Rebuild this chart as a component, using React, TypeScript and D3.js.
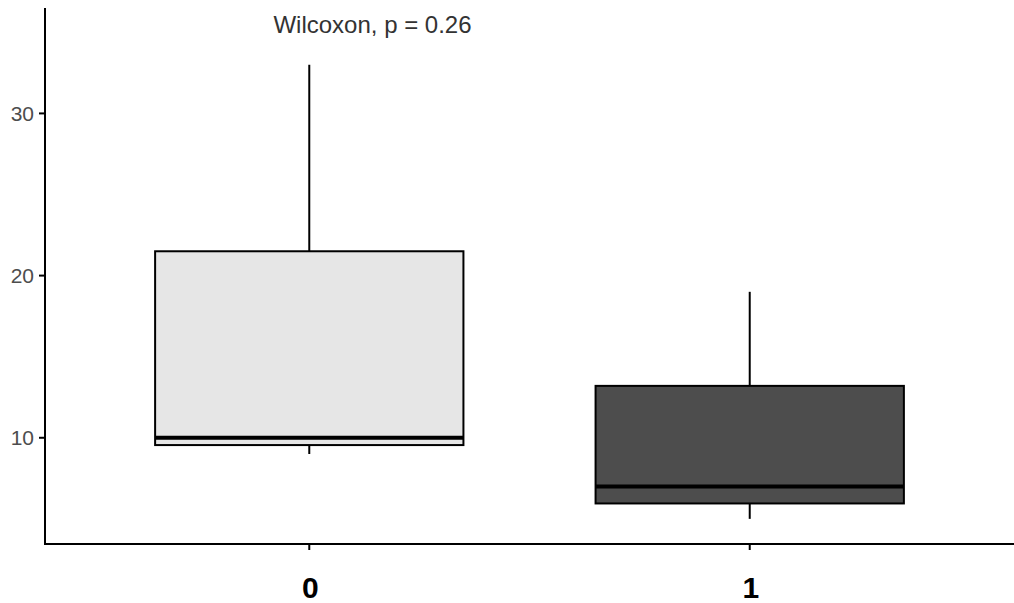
import * as d3 from "d3";

// box stats per group
const groups = ["0", "1"];
const lowerWhisker = [9, 5];
const q1 = [9.55, 5.95];
const medians = [10, 7];
const q3 = [21.5, 13.2];
const upperWhisker = [33, 19];
const fills = ["#e6e6e6", "#4d4d4d"];
const yTicks = [10, 20, 30];
const testLabel = "Wilcoxon, p = 0.26";

const width = 1014;
const height = 603;
const margin = { top: 8, right: 0, bottom: 59, left: 45 };

export default function App() {
  const x = d3
    .scalePoint()
    .domain(groups)
    .range([margin.left, width - margin.right])
    .padding(0.6);
  const step = x.step();
  const boxWidth = step * 0.7;

  const y = d3
    .scaleLinear()
    .domain([3.45, 36.5])
    .range([height - margin.bottom, margin.top]);

  const font = "'Liberation Sans', Arial, sans-serif";

  return (
    <svg
      width={width}
      height={height}
      style={{ position: "absolute", left: 0, top: 0, background: "white" }}
    >
      {/* y axis */}
      <line
        x1={margin.left}
        x2={margin.left}
        y1={margin.top}
        y2={height - margin.bottom}
        stroke="black"
        strokeWidth={2}
      />
      {yTicks.map((t) => (
        <g key={t}>
          <line
            x1={margin.left - 6}
            x2={margin.left}
            y1={y(t)}
            y2={y(t)}
            stroke="black"
            strokeWidth={2}
          />
          <text
            x={margin.left - 11}
            y={y(t)}
            dy="0.36em"
            textAnchor="end"
            fontFamily={font}
            fontSize={21}
            fill="#4d4d4d"
          >
            {t}
          </text>
        </g>
      ))}

      {/* x axis */}
      <line
        x1={margin.left - 1}
        x2={width}
        y1={height - margin.bottom}
        y2={height - margin.bottom}
        stroke="black"
        strokeWidth={2}
      />
      {groups.map((g) => (
        <g key={g}>
          <line
            x1={x(g)}
            x2={x(g)}
            y1={height - margin.bottom}
            y2={height - margin.bottom + 6}
            stroke="black"
            strokeWidth={2}
          />
          <text
            x={(x(g) as number) + 1}
            y={598}
            textAnchor="middle"
            fontFamily={font}
            fontSize={30}
            fontWeight="bold"
            fill="black"
          >
            {g}
          </text>
        </g>
      ))}

      {/* boxes */}
      {groups.map((g, i) => {
        const cx = x(g) as number;
        return (
          <g key={"box" + g}>
            <line
              x1={cx}
              x2={cx}
              y1={y(upperWhisker[i])}
              y2={y(q3[i])}
              stroke="black"
              strokeWidth={2}
            />
            <line
              x1={cx}
              x2={cx}
              y1={y(q1[i])}
              y2={y(lowerWhisker[i])}
              stroke="black"
              strokeWidth={2}
            />
            <rect
              x={cx - boxWidth / 2}
              y={y(q3[i])}
              width={boxWidth}
              height={y(q1[i]) - y(q3[i])}
              fill={fills[i]}
              stroke="black"
              strokeWidth={2}
            />
            <line
              x1={cx - boxWidth / 2}
              x2={cx + boxWidth / 2}
              y1={y(medians[i])}
              y2={y(medians[i])}
              stroke="black"
              strokeWidth={4}
            />
          </g>
        );
      })}

      <text
        x={372.5}
        y={33}
        textAnchor="middle"
        fontFamily={font}
        fontSize={24}
        fill="#333333"
      >
        {testLabel}
      </text>
    </svg>
  );
}
